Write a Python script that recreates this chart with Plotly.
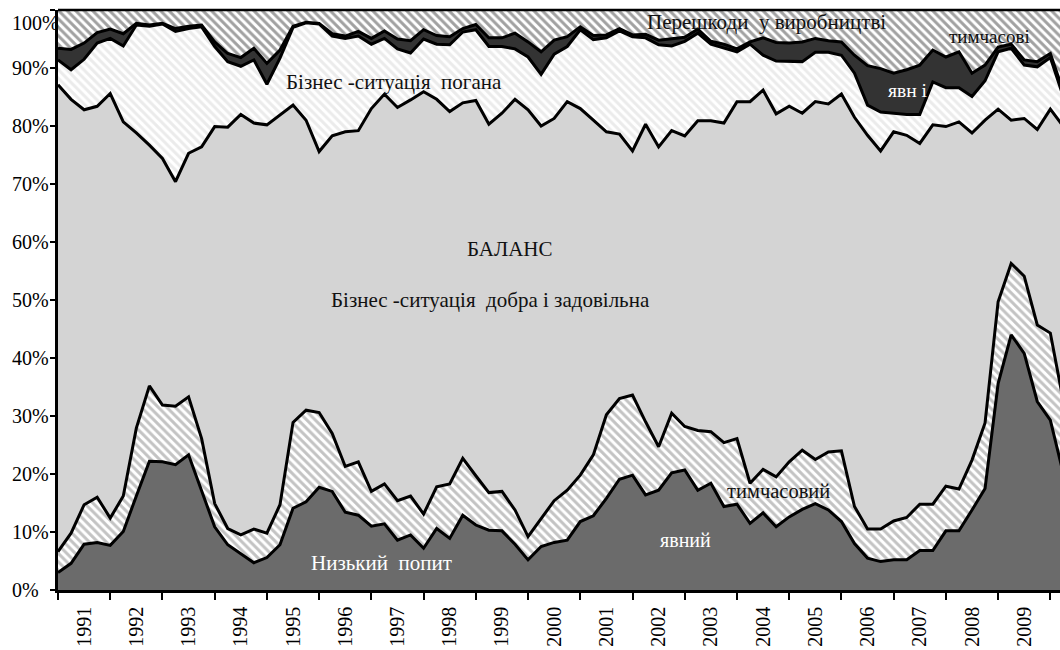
import plotly.graph_objects as go

# Quarterly data, 1991Q1 ... (shares, %)
years = list(range(1991, 2010))
year_labels = [str(y) for y in years]
quarter_x = [1991 + q / 4 for q in range(78)]
pct_ticks = list(range(0, 101, 10))
pct_labels = [f"{v}%" for v in pct_ticks]

low_demand_explicit = [
    3.0, 4.6, 7.9, 8.2, 7.7, 10.1, 16.2, 22.2, 22.1, 21.6, 23.3, 17.2, 10.9, 7.8, 6.3, 4.7,
    5.6, 7.8, 14.1, 15.2, 17.7, 17.0, 13.4, 12.9, 11.0, 11.4, 8.6, 9.5, 7.2, 10.6, 8.9, 12.9,
    11.2, 10.3, 10.2, 7.9, 5.2, 7.5, 8.2, 8.6, 11.8, 12.8, 15.8, 19.1, 19.8, 16.4, 17.2, 20.2,
    20.7, 17.2, 18.4, 14.4, 14.8, 11.5, 13.3, 10.9, 12.6, 13.9, 14.9, 13.8, 11.8, 8.0, 5.5, 4.9,
    5.2, 5.2, 6.8, 6.8, 10.2, 10.2, 13.8, 17.5, 35.6, 44.0, 40.8, 32.5, 29.3, 20.0]
low_demand_temporary = [
    3.6, 5.2, 6.8, 7.8, 4.7, 6.1, 11.7, 13.0, 9.8, 10.1, 10.0, 8.9, 4.0, 2.8, 3.2, 5.8,
    4.2, 6.9, 14.8, 15.8, 12.9, 10.0, 7.9, 9.2, 6.0, 6.9, 6.8, 6.7, 5.9, 7.2, 9.4, 9.8,
    8.5, 6.5, 6.8, 5.9, 4.0, 4.9, 7.2, 8.6, 8.0, 10.5, 14.4, 13.9, 13.8, 12.6, 7.5, 10.3,
    7.5, 10.3, 8.9, 11.0, 11.3, 6.9, 7.5, 8.6, 9.5, 10.2, 7.6, 10.0, 12.2, 6.4, 5.0, 5.6,
    6.7, 7.3, 8.0, 8.0, 7.7, 7.2, 8.6, 11.3, 14.1, 12.3, 13.3, 13.2, 15.0, 12.5]
balance = [
    80.5, 74.8, 68.1, 67.4, 73.2, 64.5, 50.9, 41.5, 42.5, 38.7, 42.0, 50.3, 65.0, 69.2, 72.5, 70.0,
    70.4, 67.2, 54.7, 50.0, 45.0, 51.3, 57.7, 57.1, 66.0, 67.2, 67.8, 68.3, 72.8, 66.8, 64.2, 61.3,
    64.7, 63.5, 65.2, 70.8, 73.6, 67.6, 65.9, 67.0, 63.2, 57.7, 48.8, 45.6, 42.1, 51.3, 51.7, 48.7,
    50.1, 53.4, 53.6, 55.1, 58.1, 65.8, 65.4, 62.6, 61.3, 58.1, 61.7, 60.0, 61.5, 67.1, 67.9, 65.2,
    67.1, 65.9, 62.2, 65.4, 62.0, 63.3, 56.4, 52.2, 33.2, 24.7, 27.2, 33.7, 38.6, 47.4]
bad_situation = [
    4.3, 5.1, 8.7, 10.9, 9.5, 13.1, 18.6, 20.5, 23.2, 25.9, 21.5, 20.7, 13.8, 11.3, 8.3, 10.9,
    7.0, 9.8, 13.4, 16.8, 22.0, 17.2, 16.1, 16.3, 11.1, 9.6, 10.1, 8.1, 9.1, 9.5, 11.5, 12.2,
    12.2, 13.4, 11.5, 8.7, 9.1, 8.9, 11.1, 9.5, 13.6, 13.9, 16.2, 17.8, 19.7, 14.9, 17.6, 14.6,
    16.3, 15.1, 13.2, 13.0, 8.6, 9.9, 6.0, 9.1, 7.8, 8.9, 8.5, 8.9, 6.7, 7.6, 5.2, 6.7,
    3.2, 3.6, 5.0, 7.4, 6.7, 5.9, 6.3, 6.8, 9.9, 12.4, 9.2, 10.8, 8.9, 5.1]
obstacles_explicit = [
    2.0, 3.5, 2.8, 1.8, 1.6, 2.1, 0.3, 0.2, 0.1, 0.5, 0.4, 0.3, 0.8, 1.4, 1.5, 2.0,
    3.6, 1.4, 0.2, 0.1, 0.1, 0.4, 0.4, 0.8, 1.0, 1.3, 1.7, 2.1, 1.6, 1.5, 1.4, 0.6,
    0.9, 1.5, 1.5, 2.7, 2.6, 3.9, 2.4, 1.7, 0.5, 0.7, 0.5, 0.4, 0.3, 0.6, 0.8, 1.2,
    0.7, 0.7, 0.5, 0.6, 0.5, 0.4, 3.0, 3.2, 3.1, 3.4, 2.4, 2.0, 2.3, 3.1, 6.8, 7.5,
    6.9, 7.7, 8.5, 5.5, 5.3, 6.2, 4.0, 2.7, 0.8, 0.7, 0.9, 0.9, 0.7, 0.9]
obstacles_temporary = [
    6.6, 6.8, 5.7, 3.9, 3.3, 4.1, 2.3, 2.6, 2.3, 3.2, 2.8, 2.6, 5.5, 7.5, 8.2, 6.6,
    9.2, 6.9, 2.8, 2.1, 2.3, 4.1, 4.5, 3.7, 4.9, 3.6, 5.0, 5.3, 3.4, 4.4, 4.6, 3.2,
    2.5, 4.8, 4.8, 4.0, 5.5, 7.2, 5.2, 4.6, 2.9, 4.4, 4.3, 3.2, 4.3, 4.2, 5.2, 5.0,
    4.7, 3.3, 5.4, 5.9, 6.7, 5.5, 4.8, 5.6, 5.7, 5.5, 4.9, 5.3, 5.5, 7.8, 9.6, 10.1,
    10.9, 10.3, 9.5, 6.9, 8.1, 7.2, 10.9, 9.5, 6.4, 5.9, 8.6, 8.9, 7.5, 14.1]

SERIF = "Liberation Serif"
NB = "\u00a0"

layers = [
    ("Низький попит явний", low_demand_explicit, dict(fillcolor="#6b6b6b")),
    ("Низький попит тимчасовий", low_demand_temporary,
     dict(fillcolor="white", fillpattern=dict(shape="\\", fgcolor="#888888", bgcolor="white",
                                              size=6, solidity=0.5))),
    ("Баланс", balance, dict(fillcolor="#d4d4d4")),
    ("Бізнес-ситуація погана", bad_situation,
     dict(fillcolor="white", fillpattern=dict(shape="\\", fgcolor="#d8d8d8", bgcolor="white",
                                              size=6, solidity=0.5))),
    ("Перешкоди явні", obstacles_explicit, dict(fillcolor="#333333")),
    ("Перешкоди тимчасові", obstacles_temporary,
     dict(fillcolor="white", fillpattern=dict(shape="\\", fgcolor="#444444", bgcolor="white",
                                              size=6, solidity=0.5))),
]

fig = go.Figure()
for idx, (name, vals, style) in enumerate(layers):
    lw = 0 if idx == len(layers) - 1 else 3
    fig.add_trace(go.Scatter(
        x=quarter_x, y=vals, name=name, mode="lines", stackgroup="one",
        line=dict(color="black", width=lw), hoverinfo="x+y+name", **style))

fig.add_shape(type="line", xref="paper", yref="paper", x0=0, x1=1, y0=1, y1=1,
              line=dict(color="black", width=2.5))

annotations = [
    (f"Перешкоди{NB}{NB}у виробництві", 2004.56, 97.9, "#111111", 21),
    ("тимчасові", 2008.83, 95.4, "#111111", 19),
    ("явн і", 2007.26, 86.2, "white", 19.5),
    (f"Бізнес -ситуація{NB}{NB}погана", 1997.43, 87.6, "#111111", 21),
    ("БАЛАНС", 1999.65, 58.8, "#111111", 21),
    (f"Бізнес -ситуація{NB}{NB}добра і задовільна", 1999.28, 50.0, "#111111", 21),
    ("тимчасовий", 2004.80, 17.0, "#111111", 20.5),
    ("явний", 2003.01, 8.6, "white", 20),
    (f"Низький{NB}{NB}попит", 1997.2, 4.6, "white", 21),
]
for text, x, y, color, size in annotations:
    fig.add_annotation(x=x, y=y, text=text, showarrow=False, xanchor="center", yanchor="middle",
                       font=dict(family=SERIF, size=size, color=color))

# y tick labels: left-aligned text column, as in the original
for v, lab in zip(pct_ticks, pct_labels):
    fig.add_annotation(xref="paper", yref="y", x=-48 / 1002, y=v, text=lab, showarrow=False,
                       xanchor="left", yanchor="top" if v == 100 else "middle",
                       font=dict(family=SERIF, size=20, color="black"))

fig.update_layout(
    width=1060, height=650, showlegend=False,
    margin=dict(l=58, r=0, t=10, b=60, autoexpand=False),
    plot_bgcolor="white", paper_bgcolor="white",
    font=dict(family=SERIF, size=19, color="black"),
)
fig.update_xaxes(
    range=[1991, 1991 + 76.74 / 4], automargin=False,
    tickvals=[y + 0.5 for y in years], ticktext=year_labels, tickangle=-90,
    ticks="", ticklabelstandoff=6, showgrid=False, zeroline=False,
    showline=True, linecolor="black", linewidth=2.5,
    minor=dict(tickvals=years + [2010], ticks="outside", ticklen=7, tickwidth=1.5,
               tickcolor="black", showgrid=False),
    tickfont=dict(family=SERIF, size=20, color="black"),
)
fig.update_yaxes(
    range=[0, 100], automargin=False, tickvals=pct_ticks, showticklabels=False,
    ticks="outside", ticklen=5, tickwidth=1.5, tickcolor="black",
    showgrid=False, zeroline=False,
    showline=True, linecolor="black", linewidth=3,
)

fig.write_html("out.html", config={"displayModeBar": False},
               post_script="document.body.style.margin='0';document.body.style.overflow='hidden';")
